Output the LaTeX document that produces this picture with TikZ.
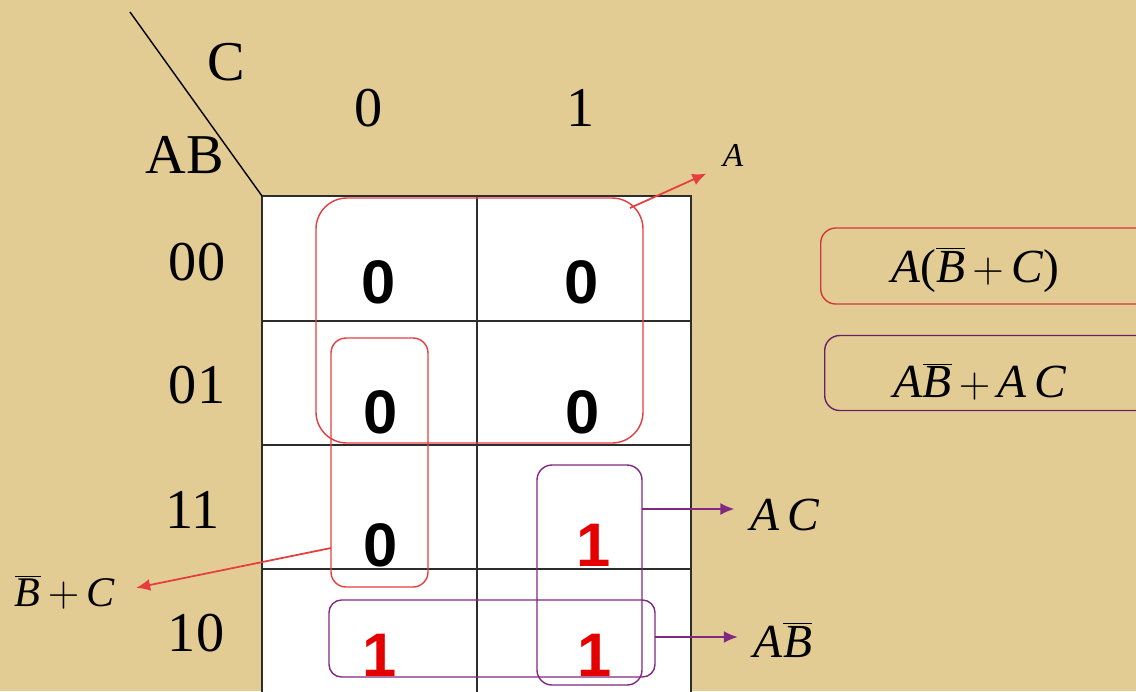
\documentclass[tikz,border=0pt]{standalone}
\usepackage{fontspec}
\setmainfont{Liberation Serif}
\newfontfamily\cellfont{Liberation Sans}
\usetikzlibrary{arrows.meta}

\definecolor{parch}{RGB}{226,204,148}
\definecolor{loopred}{RGB}{230,62,62}
\definecolor{looppurple}{RGB}{130,40,130}
\definecolor{gridline}{RGB}{45,45,45}

\newcommand{\bbar}{$\overline{\mbox{\textit{B}}}$}

\tikzset{
  head/.style={font=\fontsize{32}{34}\selectfont, inner sep=0pt},
  cellval/.style={font=\cellfont\bfseries\fontsize{35}{38}\selectfont, inner sep=0pt},
  oneval/.style={cellval, text=red!90!black},
  term/.style={font=\fontsize{27}{30}\selectfont, inner sep=0pt},
  redloop/.style={draw=loopred, line width=0.8pt},
  purloop/.style={draw=looppurple, line width=0.8pt},
  redarr/.style={draw=loopred, line width=1pt, -{Latex[length=2.8mm,width=2.4mm]}},
  purarr/.style={draw=looppurple, line width=1pt, -{Latex[length=2.8mm,width=2.4mm]}},
}

\begin{document}
\begin{tikzpicture}[x=0.02cm,y=-0.02cm]
    \useasboundingbox (0,0) rectangle (1136,691);
    \clip (0,0) rectangle (1136,691);
    \fill[parch] (0,0) rectangle (1136,691);

    % Map cells
    \fill[white] (262,196) rectangle (691,700);
    \draw[gridline, line width=1.1pt] (262,700) -- (262,196) -- (691,196) -- (691,700);
    \draw[gridline, line width=1.1pt] (477,196) -- (477,700);
    \foreach \y in {321,445,569}
        \draw[gridline, line width=1.1pt] (262,\y) -- (691,\y);

    % Corner
    \draw[line width=0.8pt] (130,12) -- (262,196);
    \node[head] (varC) at (226,62) {C};
    \node[head] (varAB) at (185,155) {AB};
    \node[head] (col0) at (369,108) {0};
    \node[head] (col1) at (581,108) {1};
    \node[head] (row00) at (197,262) {00};
    \node[head] (row01) at (197,385) {01};
    \node[head] (row11) at (193,510) {11};
    \node[head] (row10) at (196,633) {10};

    % Cell values
    \node[cellval] (m0) at (379,282) {0};
    \node[cellval] (m1) at (582,282) {0};
    \node[cellval] (m2) at (381,412) {0};
    \node[cellval] (m3) at (583,412) {0};
    \node[cellval] (m6) at (381,545) {0};
    \node[oneval] (m7) at (594,545) {1};
    \node[oneval] (m4) at (380,655) {1};
    \node[oneval] (m5) at (595,655) {1};

    % Groups
    \draw[redloop, rounded corners=0.62cm] (316,198) rectangle (643,443);
    \draw[redloop, rounded corners=0.3cm] (331,338) rectangle (428,587);
    \draw[purloop, rounded corners=0.3cm] (537,465) rectangle (642,685);
    \draw[purloop, rounded corners=0.25cm] (329,600) rectangle (655,677);

    \coordinate (gA) at (630,208);
    \coordinate (gBC) at (331,548);
    \coordinate (gAC) at (642,509);
    \coordinate (gAB) at (655,637);

    % Terms
    \node[term, font=\fontsize{19}{22}\selectfont] (tA) at (733,155) {\textit{A}};
    \node[term, font=\fontsize{24}{27}\selectfont] (tBC) at (65,592) {\bbar$\,+\,$\textit{C}};
    \node[term] (tAC) at (785,515) {\textit{A\,C}};
    \node[term] (tAB) at (783,640) {\textit{A}\bbar};

    \draw[redarr, shorten >=10pt] (gA) -- (tA.south west);
    \draw[redarr, shorten >=12pt] (gBC) -- (tBC.east);
    \draw[purarr, shorten >=9pt] (gAC) -- (gAC -| tAC.west);
    \draw[purarr, shorten >=9pt] (gAB) -- (gAB -| tAB.west);

    % Results
    \node[draw=loopred!90!black, line width=0.8pt, rounded corners=0.3cm, anchor=west,
          minimum width=7cm, minimum height=1.52cm] (boxPOS) at (820,266) {};
    \node[draw=looppurple!80!black, line width=0.8pt, rounded corners=0.3cm, anchor=west,
          minimum width=7cm, minimum height=1.5cm] (boxSOP) at (824,373) {};
    \node[term] (fPOS) at (975,270) {\textit{A}(\bbar$\,+\,$\textit{C})};
    \node[term] (fSOP) at (980,382) {\textit{A}\bbar$\,+\,$\textit{A\,C}};
\end{tikzpicture}
\end{document}
